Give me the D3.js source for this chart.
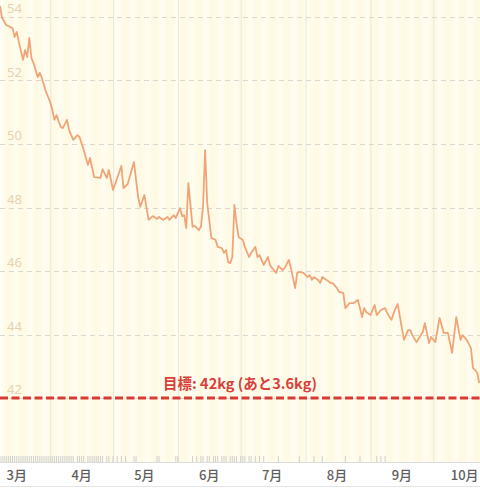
<!DOCTYPE html>
<html lang="ja">
<head>
<meta charset="UTF-8">
<title>体重の推移</title>
<script src="https://d3js.org/d3.v7.min.js"></script>
<style>
  html, body { margin: 0; padding: 0; background: #fff; }
  svg { display: block; }
  .ylab { font-family: "Noto Sans", sans-serif; font-size: 13px; fill: #e6d3b0; }
  .mlab { font-family: "Noto Sans CJK JP", sans-serif; font-size: 13px; font-weight: 500; fill: #5e5e5e; }
  .goal { font-family: "Noto Sans CJK JP", sans-serif; font-size: 14.5px; font-weight: 700; fill: #d8403a; }
</style>
</head>
<body>
<script>
  // weight log (M/D, kg)
  const dates = [
    '3/8','3/9','3/11','3/14','3/15','3/16','3/17','3/19','3/20','3/21','3/22','3/23','3/24','3/26','3/27','3/28','3/30','3/31',
    '4/1','4/2','4/3','4/4','4/6','4/7','4/9','4/10','4/12','4/14','4/15','4/17','4/19','4/20','4/22','4/25','4/26','4/28','4/29',
    '5/1','5/3','5/5','5/6','5/8','5/11','5/13','5/14','5/16','5/18','5/20','5/22','5/23','5/25','5/27','5/28','5/30','5/31',
    '6/2','6/3','6/4','6/5','6/6','6/8','6/9','6/11','6/12','6/13','6/14','6/15','6/17','6/19','6/20','6/22','6/23','6/24','6/25','6/26','6/27','6/28','6/29','6/30',
    '7/2','7/3','7/5','7/6','7/7','7/8','7/9','7/10','7/12','7/14','7/15','7/16','7/18','7/19','7/21','7/22','7/24','7/25','7/27','7/28','7/29','7/31',
    '8/2','8/3','8/4','8/5','8/7','8/8','8/9','8/11','8/13','8/14','8/16','8/17','8/19','8/20','8/22','8/24','8/26','8/28','8/29','8/30',
    '9/1','9/3','9/4','9/6','9/8','9/9','9/11','9/13','9/14','9/17','9/19','9/20','9/21','9/23','9/26','9/27','9/29','9/30',
    '10/2','10/4','10/6','10/8','10/10','10/12','10/14','10/15','10/17','10/19','10/20','10/21','10/22','10/23'
  ];
  const weights = [
    54.35,53.97,53.75,53.65,53.37,53.53,53.21,52.65,52.96,52.74,53.34,52.71,52.55,52.11,52.24,52.08,51.64,51.48,
    51.32,51.07,50.76,50.91,50.54,50.50,50.76,50.44,50.13,50.28,50.22,49.81,49.34,49.56,48.96,48.93,49.21,48.93,49.18,
    48.55,48.93,49.31,48.61,48.74,49.43,48.33,48.02,48.39,47.61,47.73,47.64,47.70,47.61,47.70,47.61,47.76,47.67,
    47.98,47.73,47.76,47.35,48.77,47.39,47.42,47.29,47.39,48.02,49.81,48.14,47.04,46.98,46.76,46.72,46.57,46.66,46.28,46.25,46.44,48.08,47.51,47.07,
    46.98,46.76,46.44,46.57,46.66,46.76,46.44,46.50,46.19,46.44,46.19,46.09,45.94,46.16,46.03,46.09,46.35,46.09,45.46,45.94,45.97,45.94,
    45.81,45.87,45.72,45.81,45.72,45.62,45.81,45.72,45.62,45.62,45.46,45.34,45.31,44.83,44.99,44.99,45.09,44.55,44.83,44.71,
    44.61,44.93,44.61,44.77,44.83,44.68,44.46,44.83,44.96,43.83,44.14,44.14,43.98,43.76,44.08,44.36,43.73,43.92,
    43.76,44.52,44.05,44.05,43.42,44.55,43.83,43.98,43.83,43.57,42.94,42.88,42.79,42.47
  ];
  // days with other records (rug along the bottom)
  const recordDays = [
    '3/8','3/9','3/10','3/11','3/12','3/13','3/14','3/15','3/16','3/17','3/18','3/19','3/20','3/21','3/22','3/23','3/24','3/25','3/26','3/27','3/28','3/29','3/30','3/31',
    '4/1','4/2','4/3','4/4','4/5','4/6','4/7','4/8','4/9','4/10','4/11','4/12','4/14','4/15','4/16','4/17','4/19','4/20','4/21','4/22','4/23','4/24','4/25','4/26','4/28','4/29',
    '5/1','5/3','5/5','5/7','5/11','5/12','5/22','5/23','5/31','6/1','6/8','6/10','6/12',
    '6/13','6/15','6/16','6/18','6/19','6/20','6/22','6/23','6/24','6/26','6/27','6/28','6/29','7/1','7/2','7/3','7/5','7/6','7/8','7/10','7/12',
    '7/19','7/29','8/5','8/9','8/20','8/27','9/4','9/6','9/8'
  ];
  const monthLabels = ['3月','4月','5月','6月','7月','8月','9月','10月'];
  const yTicks = [42, 44, 46, 48, 50, 52, 54];
  const goal = 42;
  const goalText = '目標: 42kg (あと3.6kg)';

  const year = 2023;
  const parse = s => { const [m, d] = s.split('/').map(Number); return new Date(year, m - 1, d); };
  const data = dates.map((d, i) => ({ date: parse(d), value: weights[i] }));

  const W = 480, H = 488;
  const axisY = 462;

  const x = d3.scaleTime()
    .domain([new Date(year, 2, 8), new Date(year, 9, 23, 8)])
    .range([0, W]);
  const y = d3.scaleLinear().domain([42, 54]).range([398, 17]);

  const svg = d3.select('body').append('svg')
    .attr('width', W)
    .attr('height', H);

  // soft cream background with blurred weekend bands
  const defs = svg.append('defs');
  defs.append('filter').attr('id', 'soft')
    .attr('x', '-50%').attr('width', '200%')
    .append('feGaussianBlur').attr('stdDeviation', '3 0');

  svg.append('rect').attr('width', W).attr('height', axisY).attr('fill', '#fffffa');

  const days = d3.timeDay.range(x.domain()[0], x.domain()[1]);
  svg.append('g').attr('filter', 'url(#soft)').selectAll('rect')
    .data(days.filter(d => d.getDay() === 6))
    .enter().append('rect')
    .attr('x', d => x(d) - 2)
    .attr('width', d => x(d3.timeDay.offset(d, 2)) - x(d) + 4)
    .attr('y', 0)
    .attr('height', axisY)
    .attr('fill', '#fdf5cc')
    .attr('opacity', 0.65);

  // month boundaries
  const monthStarts = d3.timeMonth.range(new Date(year, 3, 1), x.domain()[1]);
  svg.append('g').selectAll('line')
    .data(monthStarts)
    .enter().append('line')
    .attr('x1', d => x(d) + 0.5).attr('x2', d => x(d) + 0.5)
    .attr('y1', 0).attr('y2', axisY)
    .attr('stroke', '#e8e8dc')
    .attr('stroke-width', 1);

  // horizontal grid
  svg.append('g').selectAll('line')
    .data(yTicks)
    .enter().append('line')
    .attr('x1', 0).attr('x2', W)
    .attr('y1', d => Math.round(y(d)) + 0.5).attr('y2', d => Math.round(y(d)) + 0.5)
    .attr('stroke', '#d8d8d0')
    .attr('stroke-dasharray', '5,4');

  svg.append('g').selectAll('text')
    .data(yTicks)
    .enter().append('text')
    .attr('class', 'ylab')
    .attr('x', 7)
    .attr('y', d => y(d) - 4)
    .text(d => d);

  // weight line
  const line = d3.line()
    .x(d => x(d.date))
    .y(d => y(d.value));

  svg.append('path')
    .datum(data)
    .attr('fill', 'none')
    .attr('stroke', '#f0a577')
    .attr('stroke-width', 1.8)
    .attr('stroke-linejoin', 'round')
    .attr('d', line);

  // goal line
  svg.append('line')
    .attr('x1', 0).attr('x2', W)
    .attr('y1', y(goal)).attr('y2', y(goal))
    .attr('stroke', '#d83a34')
    .attr('stroke-width', 3)
    .attr('stroke-dasharray', '8,3.5');

  svg.append('text')
    .attr('class', 'goal')
    .attr('x', W / 2)
    .attr('y', y(goal) - 9)
    .attr('text-anchor', 'middle')
    .text(goalText);

  // rug ticks
  svg.append('g').selectAll('line')
    .data(recordDays.map(parse))
    .enter().append('line')
    .attr('x1', d => x(d)).attr('x2', d => x(d))
    .attr('y1', axisY - 6).attr('y2', axisY)
    .attr('stroke', '#cfcfcf')
    .attr('stroke-width', 1);

  // x axis
  svg.append('line')
    .attr('x1', 0).attr('x2', W)
    .attr('y1', axisY + 0.5).attr('y2', axisY + 0.5)
    .attr('stroke', '#dcdcdc');

  svg.append('line')
    .attr('x1', 0).attr('x2', W)
    .attr('y1', H - 1.5).attr('y2', H - 1.5)
    .attr('stroke', '#e4e4e4');

  svg.append('g').selectAll('text')
    .data(monthLabels)
    .enter().append('text')
    .attr('class', 'mlab')
    .attr('x', (d, i) => x(new Date(year, 2 + i, 16)))
    .attr('y', 480)
    .attr('text-anchor', 'middle')
    .text(d => d);
</script>
</body>
</html>
